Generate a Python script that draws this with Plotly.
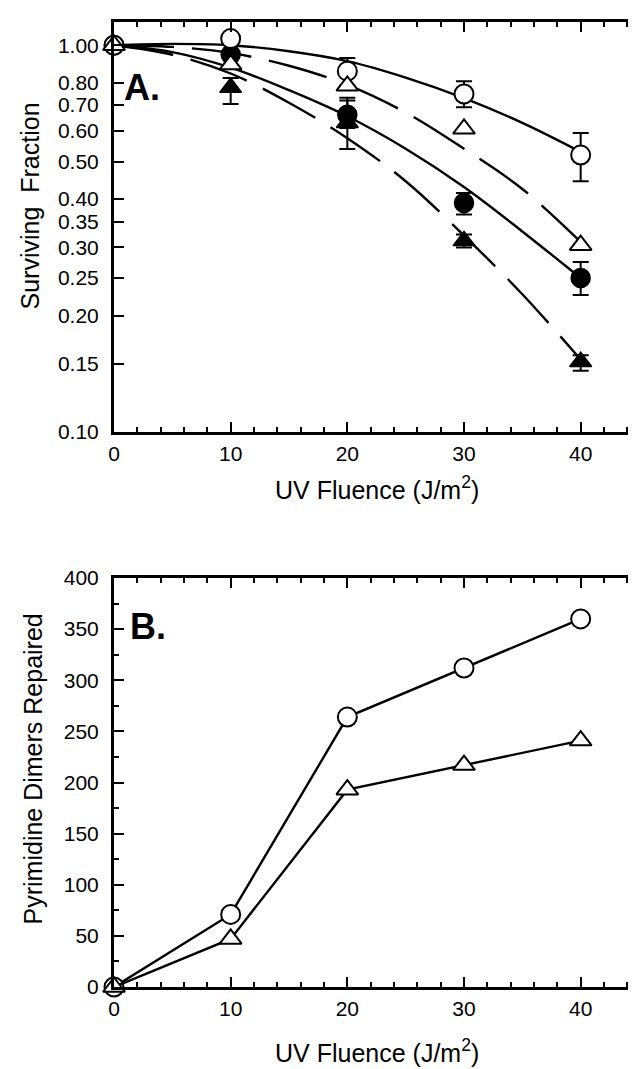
import plotly.graph_objects as go

# ---------------- Panel A data ----------------
dose = [0, 10, 20, 30, 40]
open_circle = [1.0, 1.04, 0.857, 0.748, 0.52]
filled_circle = [1.0, 0.946, 0.661, 0.391, 0.25]
open_tri = [1.0, 0.891, 0.785, 0.608, 0.304]
filled_tri = [1.0, 0.777, 0.63, 0.312, 0.152]

open_circle_err_plus = [0, 0, 0.07, 0.059, 0.073]
open_circle_err_minus = [0, 0, 0.07, 0.057, 0.075]
filled_circle_err_plus = [0, 0, 0.07, 0.024, 0.025]
filled_circle_err_minus = [0, 0, 0.05, 0.026, 0.024]
filled_tri_err_plus = [0, 0.046, 0.09, 0.012, 0.006]
filled_tri_err_minus = [0, 0.072, 0.091, 0.012, 0.008]

# fitted curves
fit_dose = [0, 5, 10, 15, 20, 25, 30, 35, 40]
fit_open_circle = [1.0, 1.008, 1.0, 0.965, 0.91, 0.825, 0.73, 0.63, 0.53]
fit_filled_circle = [1.0, 0.96, 0.875, 0.765, 0.655, 0.54, 0.43, 0.33, 0.25]
fit_open_tri = [1.0, 0.99, 0.955, 0.885, 0.79, 0.67, 0.54, 0.425, 0.31]
fit_filled_tri = [1.0, 0.945, 0.845, 0.71, 0.575, 0.445, 0.322, 0.227, 0.154]

a_tickvals = [0.10, 0.15, 0.20, 0.25, 0.30, 0.35, 0.40, 0.50, 0.60, 0.70, 0.80, 1.00]
a_ticktext = ["0.10", "0.15", "0.20", "0.25", "0.30", "0.35", "0.40", "0.50", "0.60", "0.70", "0.80", "1.00"]

# ---------------- Panel B data ----------------
b_circle = [0, 71, 264, 312, 360]
b_tri = [0, 47, 193, 217, 241]

FONT = "Liberation Sans, Arial, Helvetica, sans-serif"
BLACK = "black"
LW = 2.4

fig = go.Figure()

# fit curves (panel A)
for yvals, dash in [(fit_open_circle, "solid"), (fit_filled_circle, "solid"),
                    (fit_open_tri, "60px,18px"), (fit_filled_tri, "60px,18px")]:
    fig.add_trace(go.Scatter(x=fit_dose, y=yvals, mode="lines", xaxis="x", yaxis="y",
                             line=dict(color=BLACK, width=LW, dash=dash, shape="spline", smoothing=1.0),
                             showlegend=False, hoverinfo="skip"))

def err(plus, minus):
    return dict(type="data", symmetric=False, array=plus, arrayminus=minus,
                color=BLACK, thickness=2, width=8)

MS = 19
fig.add_trace(go.Scatter(x=dose, y=filled_tri, mode="markers", xaxis="x", yaxis="y",
                         marker=dict(symbol="triangle-up", size=MS, color=BLACK, line=dict(color=BLACK, width=1.5)),
                         error_y=err(filled_tri_err_plus, filled_tri_err_minus),
                         cliponaxis=False, showlegend=False))
fig.add_trace(go.Scatter(x=dose, y=filled_circle, mode="markers", xaxis="x", yaxis="y",
                         marker=dict(symbol="circle", size=MS, color=BLACK, line=dict(color=BLACK, width=1.5)),
                         error_y=err(filled_circle_err_plus, filled_circle_err_minus),
                         cliponaxis=False, showlegend=False))
fig.add_trace(go.Scatter(x=dose, y=open_circle, mode="markers", xaxis="x", yaxis="y",
                         marker=dict(symbol="circle", size=MS, color="white", line=dict(color=BLACK, width=2)),
                         error_y=err(open_circle_err_plus, open_circle_err_minus),
                         cliponaxis=False, showlegend=False))
fig.add_trace(go.Scatter(x=dose, y=open_tri, mode="markers", xaxis="x", yaxis="y",
                         marker=dict(symbol="triangle-up", size=MS, color="white", line=dict(color=BLACK, width=2)),
                         cliponaxis=False, showlegend=False))

# panel B
fig.add_trace(go.Scatter(x=dose, y=b_circle, mode="lines+markers", xaxis="x2", yaxis="y2",
                         line=dict(color=BLACK, width=LW),
                         marker=dict(symbol="circle", size=MS, color="white", line=dict(color=BLACK, width=2)),
                         cliponaxis=False, showlegend=False))
fig.add_trace(go.Scatter(x=dose, y=b_tri, mode="lines+markers", xaxis="x2", yaxis="y2",
                         line=dict(color=BLACK, width=LW),
                         marker=dict(symbol="triangle-up", size=MS, color="white", line=dict(color=BLACK, width=2)),
                         cliponaxis=False, showlegend=False))

W, H = 636, 1069
L, R, T, B = 106, 2, 14, 90
plot_h = H - T - B
a_bottom = (979 - 424) / plot_h
b_top = (979 - 570) / plot_h

TICKFONT = dict(family=FONT, size=21, color=BLACK)

common_x = dict(range=[0, 45], tickvals=[0, 10, 20, 30, 40], ticks="inside", ticklen=10, tickwidth=2,
                tickcolor=BLACK, showline=True, linewidth=3, linecolor=BLACK, mirror="ticks",
                showgrid=False, zeroline=False, tickfont=TICKFONT,
                ticklabelstandoff=1,
                minor=dict(dtick=2, ticks="inside", ticklen=5, tickwidth=1.5, tickcolor=BLACK, showgrid=False))

fig.update_layout(
    width=W, height=H,
    margin=dict(l=L, r=R, t=T, b=B),
    paper_bgcolor="white", plot_bgcolor="white",
    xaxis=dict(domain=[0, 1], anchor="y", **common_x),
    yaxis=dict(domain=[a_bottom, 1], anchor="x", type="log", range=[-1, 0.06],
               tickvals=a_tickvals, ticktext=a_ticktext, ticks="inside", ticklen=10, tickwidth=2,
               tickcolor=BLACK, showline=True, linewidth=3, linecolor=BLACK, mirror="ticks",
               showgrid=False, zeroline=False, tickfont=TICKFONT,
               ticklabelstandoff=8),
    xaxis2=dict(domain=[0, 1], anchor="y2", **common_x),
    yaxis2=dict(domain=[0, b_top], anchor="x2", range=[0, 400], dtick=50, tick0=0,
                ticks="inside", ticklen=10, tickwidth=2, tickcolor=BLACK,
                showline=True, linewidth=3, linecolor=BLACK, mirror="ticks",
                showgrid=False, zeroline=False, tickfont=TICKFONT,
                ticklabelstandoff=8,
                minor=dict(dtick=25, ticks="inside", ticklen=5, tickwidth=1.5, tickcolor=BLACK, showgrid=False)),
)

def px_x(px):
    return (px - L) / (W - L - R)

def px_y(py):
    return (H - B - py) / plot_h

ann = [
    dict(text="UV Fluence (J/m<sup>2</sup>)", x=px_x(371), y=px_y(480)),
    dict(text="UV Fluence (J/m<sup>2</sup>)", x=px_x(371), y=px_y(1043)),
    dict(text="Surviving  Fraction", x=px_x(22), y=px_y(198), textangle=-90),
    dict(text="Pyrimidine Dimers Repaired", x=px_x(25), y=px_y(761), textangle=-90),
]
for a in ann:
    fig.add_annotation(xref="paper", yref="paper", showarrow=False, xanchor="center", yanchor="middle",
                       text=a["text"], x=a["x"], y=a["y"], textangle=a.get("textangle", 0),
                       font=dict(family=FONT, color=BLACK, size=25))

fig.add_annotation(xref="paper", yref="paper", showarrow=False, xanchor="left", yanchor="middle",
                   text="<b>A.</b>", x=px_x(114), y=px_y(80), font=dict(family=FONT, size=36, color=BLACK))
fig.add_annotation(xref="paper", yref="paper", showarrow=False, xanchor="left", yanchor="middle",
                   text="<b>B.</b>", x=px_x(120), y=px_y(618), font=dict(family=FONT, size=36, color=BLACK))

fig.write_html("out.html")
